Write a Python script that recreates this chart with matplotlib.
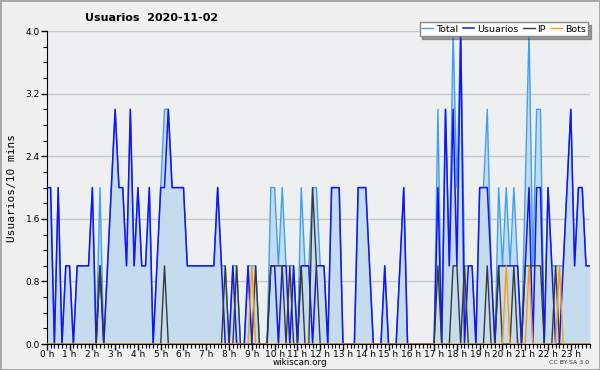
import numpy as np
import matplotlib.pyplot as plt
from matplotlib.ticker import MultipleLocator, FixedLocator

# one value per 10 minutes, 144 intervals
hour_labels = [f"{h} h" for h in range(24)]

usuarios = [
    2, 2, 0, 2, 0, 1, 1, 0, 1, 1, 1, 1,
    2, 0, 1, 0, 1, 2, 3, 2, 2, 1, 3, 1,
    2, 1, 1, 2, 0, 1, 2, 2, 3, 2, 2, 2,
    2, 1, 1, 1, 1, 1, 1, 1, 1, 2, 1, 0,
    0, 1, 0, 0, 0, 1, 0, 0, 0, 0, 0, 1,
    1, 0, 1, 1, 0, 1, 0, 1, 1, 1, 0, 1,
    1, 1, 0, 2, 2, 2, 0, 0, 0, 0, 2, 2,
    2, 1, 0, 0, 0, 1, 0, 0, 0, 1, 2, 0,
    0, 0, 0, 0, 0, 0, 0, 2, 0, 3, 1, 3,
    1, 4, 0, 1, 1, 0, 2, 2, 2, 1, 0, 1,
    1, 1, 1, 1, 1, 0, 1, 2, 0, 2, 2, 0,
    2, 1, 0, 0, 1, 2, 3, 1, 2, 2, 1, 1,
]

ip = [
    0, 0, 0, 0, 0, 0, 0, 0, 0, 0, 0, 0,
    0, 0, 1, 0, 0, 0, 0, 0, 0, 0, 0, 0,
    0, 0, 0, 0, 0, 0, 0, 1, 0, 0, 0, 0,
    0, 0, 0, 0, 0, 0, 0, 0, 0, 0, 0, 1,
    0, 0, 1, 0, 0, 0, 0, 1, 0, 0, 0, 1,
    1, 1, 1, 0, 1, 0, 0, 1, 0, 0, 2, 1,
    0, 0, 0, 0, 0, 0, 0, 0, 0, 0, 0, 0,
    0, 0, 0, 0, 0, 0, 0, 0, 0, 0, 0, 0,
    0, 0, 0, 0, 0, 0, 0, 1, 0, 0, 0, 1,
    1, 0, 1, 0, 0, 0, 0, 0, 1, 0, 0, 1,
    0, 0, 0, 1, 0, 0, 1, 1, 1, 1, 1, 0,
    0, 0, 1, 0, 0, 0, 0, 0, 0, 0, 0, 0,
]

bots = [
    0, 0, 0, 0, 0, 0, 0, 0, 0, 0, 0, 0,
    0, 0, 0, 0, 0, 0, 0, 0, 0, 0, 0, 0,
    0, 0, 0, 0, 0, 0, 0, 0, 0, 0, 0, 0,
    0, 0, 0, 0, 0, 0, 0, 0, 0, 0, 0, 0,
    0, 0, 0, 0, 0, 0, 1, 0, 0, 0, 0, 0,
    0, 0, 0, 0, 0, 0, 0, 0, 0, 0, 0, 0,
    0, 0, 0, 0, 0, 0, 0, 0, 0, 0, 0, 0,
    0, 0, 0, 0, 0, 0, 0, 0, 0, 0, 0, 0,
    0, 0, 0, 0, 0, 0, 0, 0, 0, 0, 0, 0,
    0, 0, 0, 0, 0, 0, 0, 0, 0, 0, 0, 0,
    0, 1, 0, 0, 0, 0, 0, 1, 0, 0, 0, 0,
    0, 0, 0, 1, 0, 0, 0, 0, 0, 0, 0, 0,
]

total = [
    2, 2, 0, 2, 0, 1, 1, 0, 1, 1, 1, 1,
    2, 0, 2, 0, 1, 2, 3, 2, 2, 1, 3, 1,
    2, 1, 1, 2, 0, 1, 2, 3, 3, 2, 2, 2,
    2, 1, 1, 1, 1, 1, 1, 1, 1, 2, 1, 1,
    0, 1, 1, 0, 0, 1, 1, 1, 0, 0, 0, 2,
    2, 1, 2, 1, 1, 1, 0, 2, 1, 1, 2, 2,
    1, 1, 0, 2, 2, 2, 0, 0, 0, 0, 2, 2,
    2, 1, 0, 0, 0, 1, 0, 0, 0, 1, 2, 0,
    0, 0, 0, 0, 0, 0, 0, 3, 0, 3, 1, 4,
    2, 4, 1, 1, 1, 0, 2, 2, 3, 1, 0, 2,
    1, 2, 1, 2, 1, 0, 2, 4, 1, 3, 3, 0,
    2, 1, 1, 1, 1, 2, 3, 1, 2, 2, 1, 1,
]

x = np.arange(len(total))

fig = plt.figure(figsize=(6, 3.7), dpi=100, facecolor='#f0f0f0',
                 edgecolor='#a8a8a8', linewidth=2)
ax = fig.add_axes([0.078, 0.070, 0.905, 0.846])
ax.set_facecolor('#edeff1')

ax.fill_between(x, total, color='#c5dcef', lw=0, zorder=1)
ax.plot(x, total, color='#40a0f0', lw=1, label='Total', zorder=2)
ax.plot(x, usuarios, color='#1414f5', lw=1.1, label='Usuarios', zorder=3)
ax.plot(x, ip, color='#383838', lw=1, label='IP', zorder=4)
ax.plot(x, bots, color='#ff9a10', lw=1, label='Bots', zorder=5)

ax.set_xlim(0, len(total) - 1)
ax.set_ylim(0, 4.0)
ax.yaxis.set_major_locator(MultipleLocator(0.8))
ax.yaxis.set_minor_locator(MultipleLocator(0.2))
ax.set_yticklabels([f"{v:.1f}" for v in ax.get_yticks()])
ax.xaxis.set_major_locator(FixedLocator(np.arange(0, 144, 6)))
ax.set_xticklabels(hour_labels)
ax.xaxis.set_minor_locator(MultipleLocator(1))
ax.grid(axis='y', color='#c8c8c8', lw=1)
ax.set_axisbelow(True)

for s in ['top', 'right']:
    ax.spines[s].set_visible(False)
ax.tick_params(labelsize=6.5, length=4, width=1, pad=1)
ax.tick_params(axis='x', pad=0.5)
ax.tick_params(which='minor', length=3, width=0.8)

ax.set_ylabel("Usuarios/10 mins", family='DejaVu Sans Mono', fontsize=8, labelpad=6)
fig.text(0.5, 0.019, "wikiscan.org", fontsize=6.3, ha='center', va='center')

fig.text(0.252, 0.952, "Usuarios  2020-11-02", fontsize=8, fontweight='bold', ha='center', va='center')
fig.text(0.982, 0.02, "CC BY-SA 3.0", fontsize=4.5, ha='right', va='center', color='#333333')

ax.legend(loc='upper right', bbox_to_anchor=(0.98, 0.94), bbox_transform=fig.transFigure,
          ncol=4, fontsize=6.8, frameon=True, fancybox=False, shadow=True, borderaxespad=0,
          handlelength=1.2, handletextpad=0.3, columnspacing=0.5, borderpad=0.25,
          edgecolor='#888888', facecolor='white', framealpha=1)

plt.savefig("out.png", dpi=100, facecolor=fig.get_facecolor(), edgecolor=fig.get_edgecolor())
